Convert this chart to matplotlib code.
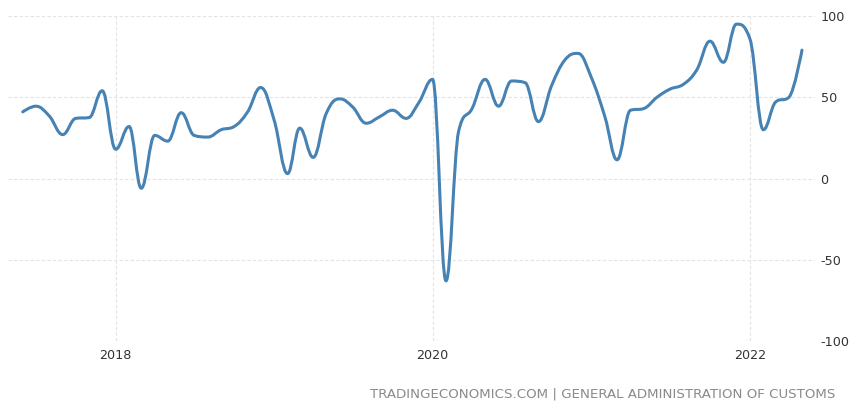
import numpy as np
import pandas as pd
import matplotlib
matplotlib.use("Agg")
import matplotlib.pyplot as plt
import matplotlib.dates as mdates
from matplotlib.path import Path
from matplotlib.patches import PathPatch

# monthly values, Jun 2017 - May 2022
fechas = pd.date_range("2017-06-01", periods=60, freq="MS")
valores = [41, 44.5, 38.5, 27, 37, 37.5, 54, 18, 32, -6,
           26.5, 23, 40.5, 26.5, 25.5, 30, 32, 41, 56, 36,
           3, 31, 13, 40, 49, 44, 34, 38, 42, 37,
           47, 61, -63, 29, 43, 61, 44.5, 60, 59, 35,
           57, 73, 77, 62, 38, 11.5, 42, 43, 50, 55,
           58, 67, 84.5, 71.5, 95, 86, 30, 47, 50, 79]
anios = ["2018", "2020", "2022"]
yticks = [-100, -50, 0, 50, 100]
fuente = "TRADINGECONOMICS.COM | GENERAL ADMINISTRATION OF CUSTOMS"


def curva_spline(xs, ys, suav=1.5):
    # bezier path through every point, same control rules as a highcharts spline
    n = len(xs)
    der = [None] * n
    verts = [(xs[0], ys[0])]
    codes = [Path.MOVETO]
    for i in range(1, n):
        x, y = xs[i], ys[i]
        lx, ly = xs[i - 1], ys[i - 1]
        izq = (x, y)
        if i < n - 1:
            nx, ny = xs[i + 1], ys[i + 1]
            d = suav + 1
            lcx = (suav * x + lx) / d
            lcy = (suav * y + ly) / d
            rcx = (suav * x + nx) / d
            rcy = (suav * y + ny) / d
            corr = (rcy - lcy) * (rcx - x) / (rcx - lcx) + y - rcy
            lcy += corr
            rcy += corr
            if lcy > ly and lcy > y:
                lcy = max(ly, y)
                rcy = 2 * y - lcy
            elif lcy < ly and lcy < y:
                lcy = min(ly, y)
                rcy = 2 * y - lcy
            if rcy > ny and rcy > y:
                rcy = max(ny, y)
                lcy = 2 * y - rcy
            elif rcy < ny and rcy < y:
                rcy = min(ny, y)
                lcy = 2 * y - rcy
            izq = (lcx, lcy)
            der[i] = (rcx, rcy)
        c1 = der[i - 1] if der[i - 1] is not None else (lx, ly)
        verts += [c1, izq, (x, y)]
        codes += [Path.CURVE4] * 3
    return Path(verts, codes)


fig = plt.figure(figsize=(8.51, 4.07), dpi=100)
ax = fig.add_axes([8 / 851, 66 / 407, 807 / 851, 325 / 407])

xs = mdates.date2num(fechas)
linea = PathPatch(curva_spline(list(xs), valores), fill=False,
                  edgecolor="#4682b4", lw=2.2, capstyle="round", joinstyle="round")
ax.add_patch(linea)

ax.set_xlim(mdates.date2num(pd.Timestamp("2017-04-28")),
            mdates.date2num(pd.Timestamp("2022-05-31")))
ax.set_ylim(-100, 100)

ax.set_xticks([mdates.date2num(pd.Timestamp(a + "-01-01")) for a in anios])
ax.set_xticklabels(anios)
ax.set_yticks(yticks)
ax.set_yticklabels([str(v) for v in yticks])
ax.yaxis.tick_right()
ax.tick_params(axis="both", length=0, labelsize=9.2, colors="#333333")
ax.tick_params(axis="y", pad=4)
ax.tick_params(axis="x", pad=6)

ax.grid(True, color="#e3e3e3", lw=0.8, linestyle=(0, (3, 2)))
ax.set_axisbelow(True)
for s in ax.spines.values():
    s.set_visible(False)

fig.text(835 / 851, 10 / 407, fuente, ha="right", va="baseline",
         fontsize=9.6, color="#8a8a8a",
         family=["Liberation Sans Narrow", "DejaVu Sans"])

fig.savefig("out.png", dpi=100)
